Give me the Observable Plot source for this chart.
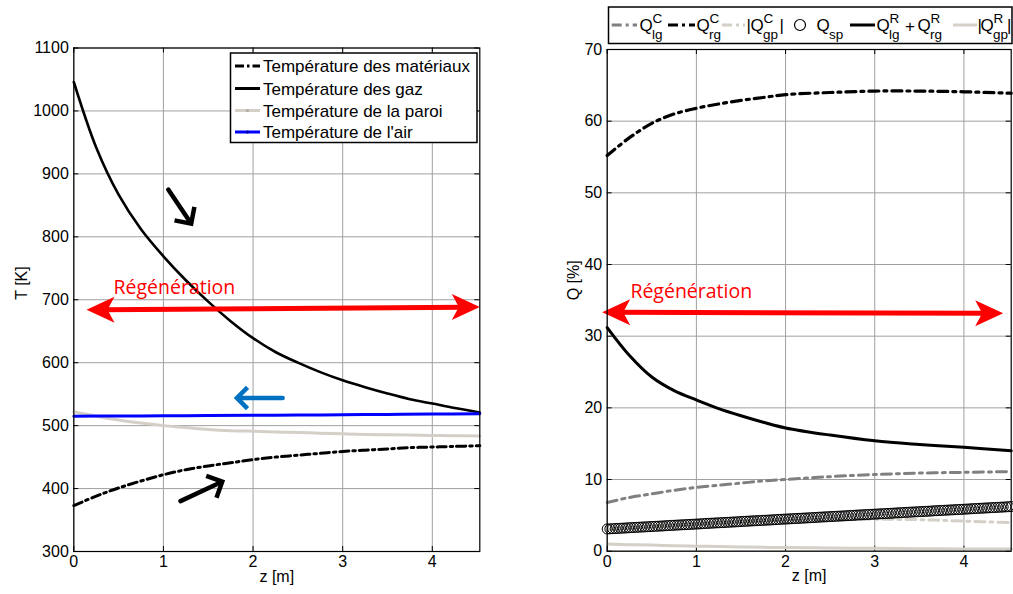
<!DOCTYPE html>
<html><head><meta charset="utf-8">
<script src="https://cdn.jsdelivr.net/npm/d3@7"></script>
<script src="https://cdn.jsdelivr.net/npm/@observablehq/plot@0.6"></script>
<style>
html,body{margin:0;padding:0;background:#fff;}
#wrap{position:relative;width:1013px;height:594px;overflow:hidden;font-family:"Liberation Sans",Arial,sans-serif;}
#wrap > svg{position:absolute;top:0;}
</style></head><body><div id="wrap"></div>
<script>
// ---------- data: left panel (temperatures) ----------
const zT = [0,0.25,0.5,0.75,1,1.25,1.5,1.75,2,2.25,2.5,2.75,3,3.25,3.5,3.75,4,4.25,4.53];
const tGaz = [1046,942,867,812,769,731,697,666,639,617,600,585,572,561,551,542,535,528,521];
const tMat = [373,388,401,412,422,430,436,441,446,450,453,456,459,461,463,465,466,467,468];
const tParoi = [522,515,509,504,500,497,494,492,491,490,489,488,487,486,485.5,485,484.5,484,483.5];
const zAir = [0,0.5,1,1.5,2,2.5,3,3.5,4,4.53];
const tAir = [515,515.3,515.6,516,516.4,516.8,517.3,517.8,518.4,519];
const tTicks = [300,400,500,600,700,800,900,1000,1100];
const zTicks = [0,1,2,3,4];
const leftLegendLabels = ["Température des matériaux","Température des gaz","Température de la paroi","Température de l'air"];

// ---------- data: right panel (Q %) ----------
const zQ = [0,0.25,0.5,0.75,1,1.25,1.5,1.75,2,2.5,3,3.5,4,4.53];
const qLgC = [6.8,7.5,8.0,8.5,8.9,9.2,9.5,9.8,10.0,10.4,10.7,10.9,11.0,11.1];
const qRgC = [55.2,57.7,59.7,61.0,61.8,62.4,62.9,63.3,63.7,64.0,64.2,64.2,64.1,63.9];
const qGpC = [3.0,3.2,3.4,3.6,3.8,3.95,4.1,4.2,4.3,4.4,4.45,4.4,4.2,4.0];
const qR = [31.2,27.3,24.3,22.4,21.1,19.9,18.9,18.0,17.2,16.2,15.4,14.9,14.5,14.0];
const qGpR = [1.0,0.9,0.85,0.75,0.7,0.65,0.6,0.55,0.5,0.45,0.4,0.35,0.3,0.3];
const zSp = [0,0.03,0.06,0.09,0.12,0.15,0.18,0.21,0.24,0.27,
 0.30,0.33,0.36,0.39,0.42,0.45,0.48,0.51,0.54,0.57,
 0.60,0.63,0.66,0.69,0.72,0.75,0.78,0.81,0.84,0.87,
 0.90,0.93,0.96,0.99,1.02,1.05,1.08,1.11,1.14,1.17,
 1.20,1.23,1.26,1.29,1.32,1.35,1.38,1.41,1.44,1.47,
 1.50,1.53,1.56,1.59,1.62,1.65,1.68,1.71,1.74,1.77,
 1.80,1.83,1.86,1.89,1.92,1.95,1.98,2.01,2.04,2.07,
 2.10,2.13,2.16,2.19,2.22,2.25,2.28,2.31,2.34,2.37,
 2.40,2.43,2.46,2.49,2.52,2.55,2.58,2.61,2.64,2.67,
 2.70,2.73,2.76,2.79,2.82,2.85,2.88,2.91,2.94,2.97,
 3.00,3.03,3.06,3.09,3.12,3.15,3.18,3.21,3.24,3.27,
 3.30,3.33,3.36,3.39,3.42,3.45,3.48,3.51,3.54,3.57,
 3.60,3.63,3.66,3.69,3.72,3.75,3.78,3.81,3.84,3.87,
 3.90,3.93,3.96,3.99,4.02,4.05,4.08,4.11,4.14,4.17,
 4.20,4.23,4.26,4.29,4.32,4.35,4.38,4.41,4.44,4.47,
 4.50,4.53];
const qSp = [3.10,3.12,3.14,3.16,3.18,3.20,3.22,3.24,3.27,3.29,
 3.31,3.33,3.35,3.37,3.39,3.41,3.43,3.45,3.47,3.49,
 3.51,3.53,3.56,3.58,3.60,3.62,3.64,3.66,3.68,3.70,
 3.72,3.74,3.76,3.78,3.80,3.82,3.85,3.87,3.89,3.91,
 3.93,3.95,3.97,3.99,4.01,4.03,4.05,4.07,4.09,4.11,
 4.14,4.16,4.18,4.20,4.22,4.24,4.26,4.28,4.30,4.32,
 4.34,4.36,4.38,4.40,4.43,4.45,4.47,4.49,4.51,4.53,
 4.55,4.57,4.59,4.61,4.63,4.65,4.67,4.69,4.71,4.74,
 4.76,4.78,4.80,4.82,4.84,4.86,4.88,4.90,4.92,4.94,
 4.96,4.98,5.00,5.03,5.05,5.07,5.09,5.11,5.13,5.15,
 5.17,5.19,5.21,5.23,5.25,5.27,5.29,5.31,5.34,5.36,
 5.38,5.40,5.42,5.44,5.46,5.48,5.50,5.52,5.54,5.56,
 5.58,5.60,5.63,5.65,5.67,5.69,5.71,5.73,5.75,5.77,
 5.79,5.81,5.83,5.85,5.87,5.89,5.92,5.94,5.96,5.98,
 6.00,6.02,6.04,6.06,6.08,6.10,6.12,6.14,6.16,6.18,
 6.21,6.23];
const qTicks = [0,10,20,30,40,50,60,70];

// ---------- annotations (data coordinates) ----------
const blackArrowsL = [{z1:1.054,t1:875,z2:1.31,t2:821,angle:55.8},{z1:1.19,t1:380,z2:1.656,t2:411,angle:-25.3}];
const blueArrowL = [{z1:2.33,t1:544,z2:1.82,t2:544,angle:180}];
const redArrowL = [{z1:0.142,t1:684,z2:4.53,t2:688.4}];
const redTextL = [{z:0.443,t:719,label:"Régénération"}];
const redArrowR = [{z1:-0.056,q1:33.33,z2:4.44,q2:33.2}];
const redTextR = [{z:0.26,q:36.2,label:"Régénération"}];

// ---------- helpers ----------
const FONT = "Liberation Sans, Arial, sans-serif";
const LGREY = "#d4d0c8", GREY = "#808080", GRID = "#a0a0a0";
function chevron(angleDeg, L) {
  const a = angleDeg*Math.PI/180, b1 = a+Math.PI*0.75, b2 = a-Math.PI*0.75;
  return {draw(ctx){ctx.moveTo(L*Math.cos(b1),L*Math.sin(b1));ctx.lineTo(0,0);ctx.lineTo(L*Math.cos(b2),L*Math.sin(b2));}};
}
function fatHead(angleDeg) {
  const a = angleDeg*Math.PI/180, c = Math.cos(a), s = Math.sin(a);
  const pts = [[0,0],[-28,-13],[-21,0],[-28,13]];
  return {draw(ctx){pts.forEach(([x,y],i)=>{const X=x*c-y*s, Y=x*s+y*c; if(i) ctx.lineTo(X,Y); else ctx.moveTo(X,Y);}); ctx.closePath();}};
}
function frameTicks(xt, yt, fW, fH) {
  return [
    Plot.tickX(xt,{x:d=>d, insetTop:fH-5, stroke:"black"}),
    Plot.tickX(xt,{x:d=>d, insetBottom:fH-5, stroke:"black"}),
    Plot.tickY(yt,{y:d=>d, insetRight:fW-5, stroke:"black"}),
    Plot.tickY(yt,{y:d=>d, insetLeft:fW-5, stroke:"black"})
  ];
}

const H = 594;
// ---------- left plot ----------
const W1 = 490, mL1 = 73.3, mR1 = 10.7, mT1 = 47.5, mB1 = 43;
const fW1 = W1-mL1-mR1, fH1 = H-mT1-mB1;
const rowsT = zT.map((z,i)=>({z, gaz:tGaz[i], mat:tMat[i], paroi:tParoi[i]}));
const rowsAir = zAir.map((z,i)=>({z, t:tAir[i]}));
const left = Plot.plot({
  width:W1, height:H, marginLeft:mL1, marginRight:mR1, marginTop:mT1, marginBottom:mB1,
  style:{fontFamily:FONT, fontSize:"16px", color:"black", background:"transparent", overflow:"visible"},
  x:{domain:[0,4.53]}, y:{domain:[300,1100]},
  marks:[
    Plot.gridX(zTicks,{stroke:GRID, strokeOpacity:1, strokeWidth:1}),
    Plot.gridY(tTicks,{stroke:GRID, strokeOpacity:1, strokeWidth:1}),
    ...frameTicks(zTicks, tTicks, fW1, fH1),
    Plot.axisX(zTicks,{tickSize:0, tickPadding:4, label:null, fontSize:16}),
    Plot.axisY(tTicks,{tickSize:0, tickPadding:5, label:null, tickFormat:d=>String(d), fontSize:16}),
    Plot.text(["z [m]"],{text:d=>d, frameAnchor:"bottom", dy:30, fontSize:16}),
    Plot.text(["T [K]"],{text:d=>d, frameAnchor:"left", dx:-52, rotate:-90, fontSize:16}),
    Plot.line(rowsT,{x:"z", y:"mat", stroke:"black", strokeWidth:3, strokeDasharray:"9,4,2.5,4", curve:"catmull-rom"}),
    Plot.line(rowsT,{x:"z", y:"gaz", stroke:"black", strokeWidth:2.6, curve:"catmull-rom"}),
    Plot.line(rowsT,{x:"z", y:"paroi", stroke:LGREY, strokeWidth:3, curve:"catmull-rom"}),
    Plot.line(rowsAir,{x:"z", y:"t", stroke:"#0000ff", strokeWidth:3, curve:"catmull-rom"}),
    // annotations
    Plot.arrow(blackArrowsL,{x1:"z1", y1:"t1", x2:"z2", y2:"t2", stroke:"black", strokeWidth:4.5, headLength:0, insetEnd:2}),
    Plot.dot([blackArrowsL[0]],{x:"z2", y:"t2", symbol:chevron(blackArrowsL[0].angle,17), stroke:"black", strokeWidth:4.5, fill:"none", strokeLinejoin:"miter"}),
    Plot.dot([blackArrowsL[1]],{x:"z2", y:"t2", symbol:chevron(blackArrowsL[1].angle,17), stroke:"black", strokeWidth:4.5, fill:"none", strokeLinejoin:"miter"}),
    Plot.arrow(blueArrowL,{x1:"z1", y1:"t1", x2:"z2", y2:"t2", stroke:"#0070c0", strokeWidth:4.5, headLength:0, insetEnd:2}),
    Plot.dot(blueArrowL,{x:"z2", y:"t2", symbol:chevron(180,15), stroke:"#0070c0", strokeWidth:4.5, fill:"none", strokeLinejoin:"miter"}),
    Plot.arrow(redArrowL,{x1:"z1", y1:"t1", x2:"z2", y2:"t2", stroke:"#ff0000", strokeWidth:5, headLength:0, insetStart:16, insetEnd:16}),
    Plot.dot(redArrowL,{x:"z1", y:"t1", symbol:fatHead(180), fill:"#ff0000", stroke:"none"}),
    Plot.dot(redArrowL,{x:"z2", y:"t2", symbol:fatHead(0), fill:"#ff0000", stroke:"none"}),
    Plot.text(redTextL,{x:"z", y:"t", text:"label", fill:"#ff0000", textAnchor:"start", fontSize:19.5, fontFamily:"Open Sans, sans-serif"}),
    Plot.frame({stroke:"black", strokeWidth:1.2})
  ]
});
left.style.left = "0px";

// ---------- right plot ----------
const W2 = 493, mL2 = 86.7, mR2 = 2.3, mT2 = 49, mB2 = 43.3;
const fW2 = W2-mL2-mR2, fH2 = H-mT2-mB2;
const rowsQ = zQ.map((z,i)=>({z, lgC:qLgC[i], rgC:qRgC[i], gpC:qGpC[i], r:qR[i], gpR:qGpR[i]}));
const rowsSp = zSp.map((z,i)=>({z, q:qSp[i]}));
const right = Plot.plot({
  width:W2, height:H, marginLeft:mL2, marginRight:mR2, marginTop:mT2, marginBottom:mB2,
  style:{fontFamily:FONT, fontSize:"16px", color:"black", background:"transparent", overflow:"visible"},
  x:{domain:[0,4.53]}, y:{domain:[0,70]},
  marks:[
    Plot.gridX(zTicks,{stroke:GRID, strokeOpacity:1, strokeWidth:1}),
    Plot.gridY(qTicks,{stroke:GRID, strokeOpacity:1, strokeWidth:1}),
    ...frameTicks(zTicks, qTicks, fW2, fH2),
    Plot.axisX(zTicks,{tickSize:0, tickPadding:4, label:null, fontSize:16}),
    Plot.axisY(qTicks,{tickSize:0, tickPadding:5, label:null, tickFormat:d=>String(d), fontSize:16}),
    Plot.text(["z [m]"],{text:d=>d, frameAnchor:"bottom", dy:30, fontSize:16}),
    Plot.text(["Q [%]"],{text:d=>d, frameAnchor:"left", dx:-33, rotate:-90, fontSize:16}),
    Plot.line(rowsQ,{x:"z", y:"lgC", stroke:GREY, strokeWidth:3, strokeDasharray:"10,5,3,5", curve:"catmull-rom"}),
    Plot.line(rowsQ,{x:"z", y:"rgC", stroke:"black", strokeWidth:3.2, strokeDasharray:"10,5,3,5", curve:"catmull-rom"}),
    Plot.line(rowsQ,{x:"z", y:"gpC", stroke:LGREY, strokeWidth:3, strokeDasharray:"10,5,3,5", curve:"catmull-rom"}),
    Plot.dot(rowsSp,{x:"z", y:"q", r:5, stroke:"black", strokeWidth:1, fill:"none"}),
    Plot.line(rowsQ,{x:"z", y:"r", stroke:"black", strokeWidth:3, curve:"catmull-rom"}),
    Plot.line(rowsQ,{x:"z", y:"gpR", stroke:LGREY, strokeWidth:3, curve:"catmull-rom"}),
    Plot.arrow(redArrowR,{x1:"z1", y1:"q1", x2:"z2", y2:"q2", stroke:"#ff0000", strokeWidth:5, headLength:0, insetStart:16, insetEnd:16}),
    Plot.dot(redArrowR,{x:"z1", y:"q1", symbol:fatHead(180), fill:"#ff0000", stroke:"none"}),
    Plot.dot(redArrowR,{x:"z2", y:"q2", symbol:fatHead(0), fill:"#ff0000", stroke:"none"}),
    Plot.text(redTextR,{x:"z", y:"q", text:"label", fill:"#ff0000", textAnchor:"start", fontSize:19.5, fontFamily:"Open Sans, sans-serif"}),
    Plot.frame({stroke:"black", strokeWidth:1.2})
  ]
});
right.style.left = "520px";

const wrap = document.getElementById("wrap");
wrap.appendChild(left);
wrap.appendChild(right);

// ---------- legends (overlay) ----------
const ov = d3.create("svg").attr("width",1013).attr("height",594).style("left","0px")
  .attr("font-family",FONT).style("pointer-events","none");
// left legend
const lgL = ov.append("g");
lgL.append("rect").attr("x",230.5).attr("y",53).attr("width",246.5).attr("height",89.5)
  .attr("fill","white").attr("stroke","black").attr("stroke-width",1.5);
const leftStyles = [
  {stroke:"black", dash:"9,3,2.5,3", mk:null},
  {stroke:"black", dash:null, mk:null},
  {stroke:LGREY, dash:null, mk:"#b0aca4"},
  {stroke:"#0000ff", dash:null, mk:"#0000aa"}];
const rowY = [66, 88.5, 110.5, 132];
leftLegendLabels.forEach((lab,i)=>{
  const st = leftStyles[i];
  const ln = lgL.append("line").attr("x1",235).attr("x2",260).attr("y1",rowY[i]).attr("y2",rowY[i])
    .attr("stroke",st.stroke).attr("stroke-width",3);
  if (st.dash) ln.attr("stroke-dasharray",st.dash);
  if (st.mk) lgL.append("circle").attr("cx",247.5).attr("cy",rowY[i]).attr("r",1.6).attr("fill",st.mk);
  lgL.append("text").attr("x",263).attr("y",rowY[i]+6).attr("font-size",17).attr("fill","black").text(lab);
});
// right legend
const lgR = ov.append("g");
lgR.append("rect").attr("x",608.5).attr("y",7).attr("width",403.5).attr("height",36.5)
  .attr("fill","white").attr("stroke","black").attr("stroke-width",1.5);
const LY = 25;
function seg(x1,x2,stroke,dash){const l=lgR.append("line").attr("x1",x1).attr("x2",x2).attr("y1",LY).attr("y2",LY).attr("stroke",stroke).attr("stroke-width",3); if(dash) l.attr("stroke-dasharray",dash);}
function txt(x,y,s,fs){lgR.append("text").attr("x",x).attr("y",y).attr("font-size",fs).attr("fill","black").text(s);}
function qlab(x,sup,sub){txt(x,30.5,"Q",17); if(sup) txt(x+13,23,sup,13.5); if(sub) txt(x+12.5,39,sub,13.5);}
seg(611.7,637,GREY,"10,4,3,4"); qlab(639.5,"C","lg");
seg(668,695,"black","10,4,3,4"); qlab(696.5,"C","rg");
seg(722,745,LGREY,"10,4,3,4"); txt(746.5,31,"|",17); qlab(750.5,"C","gp"); txt(779.5,31,"|",17);
lgR.append("circle").attr("cx",800).attr("cy",LY).attr("r",5.5).attr("fill","none").attr("stroke","black").attr("stroke-width",1.2);
qlab(816.5,null,"sp");
seg(850,875,"black",null); qlab(876.5,"R","lg"); txt(905,31.5,"+",17); qlab(917.5,"R","rg");
seg(953,977,LGREY,null); txt(977.5,31,"|",17); qlab(980.5,"R","gp"); txt(1007,31,"|",17);
wrap.appendChild(ov.node());
</script></body></html>
